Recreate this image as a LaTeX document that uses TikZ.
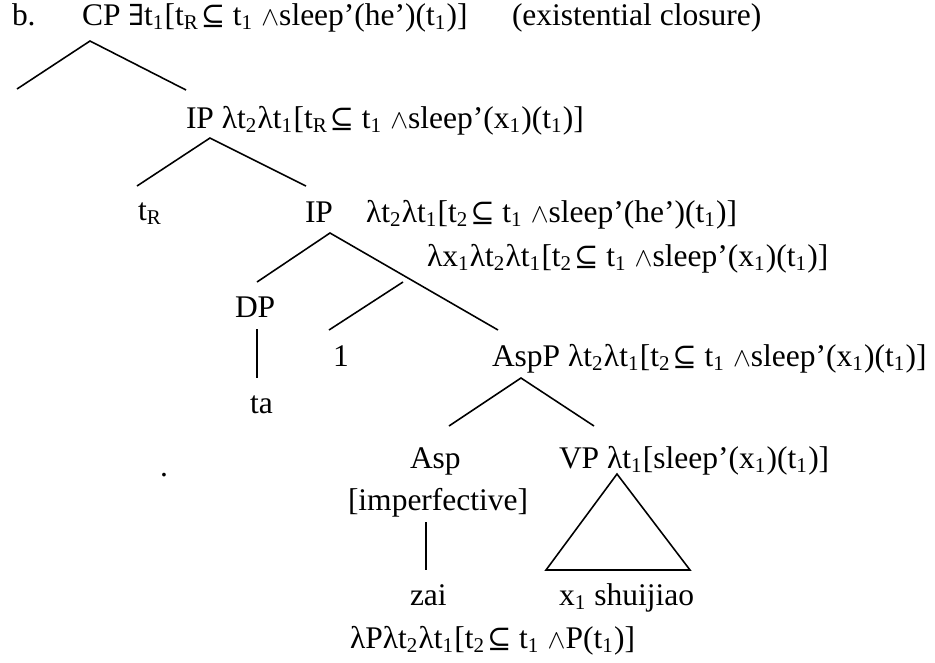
\documentclass[tikz,border=0pt]{standalone}
\usepackage{fontspec}
\setmainfont{Liberation Serif}
\newfontfamily\symfont[Scale=0.92]{DejaVu Serif}
\usepackage{tikz}
\usetikzlibrary{calc}
\tikzstyle{lbl}=[anchor=base west, inner sep=0pt, outer sep=0pt]
\tikzstyle{branch}=[line width=0.6pt]
\newcommand{\tsb}[1]{t\textsubscript{#1}}
\newcommand{\xsb}[1]{x\textsubscript{#1}}
\newcommand{\incl}{\kern0.6pt{\symfont ⊆} }
\newcommand{\lnd}{\scalebox{0.85}{$\wedge$}}
\newcommand{\exi}{{\symfont ∃}}

\begin{document}
\begin{tikzpicture}
        [x=0.381pt,y=-0.381pt,font=\fontsize{12}{14}\selectfont]
            \useasboundingbox (0,0) rectangle (935,662);
            \node [lbl] (ex) at (12,25) {b.};
            \node [lbl] (cp) at (82,25) {CP \exi\tsb{1}[\tsb{R}\incl\tsb{1} \lnd sleep’(he’)(\tsb{1})]};
            \node [lbl] (excl) at (512,25) {(existential closure)};
            \node [lbl] (ip) at (186,128) {IP λ\tsb{2}λ\tsb{1}[\tsb{R}\incl\tsb{1} \lnd sleep’(\xsb{1})(\tsb{1})]};
            \node [lbl] (tr) at (138,220) {\tsb{R}};
            \node [lbl] (ipb) at (305,222) {IP};
            \node [lbl] (ipbsem) at (366,222) {λ\tsb{2}λ\tsb{1}[\tsb{2}\incl\tsb{1} \lnd sleep’(he’)(\tsb{1})]};
            \node [lbl] (barsem) at (427,266) {λ\xsb{1}λ\tsb{2}λ\tsb{1}[\tsb{2}\incl\tsb{1} \lnd sleep’(\xsb{1})(\tsb{1})]};
            \node [lbl] (dp) at (235,317) {DP};
            \node [lbl] (one) at (333,366) {1};
            \node [lbl] (aspp) at (492,366) {AspP λ\tsb{2}λ\tsb{1}[\tsb{2}\incl\tsb{1} \lnd sleep’(\xsb{1})(\tsb{1})]};
            \node [lbl] (ta) at (250,413) {ta};
            \node [lbl] (asp) at (410,468) {Asp};
            \node [lbl] (vp) at (559,468) {VP λ\tsb{1}[sleep’(\xsb{1})(\tsb{1})]};
            \node [lbl] (stray) at (160,476) {.};
            \node [lbl] (imp) at (348,510) {[imperfective]};
            \node [lbl] (zai) at (410,605) {zai};
            \node [lbl] (shui) at (559,605) {\xsb{1} shuijiao};
            \node [lbl] (zaisem) at (350,648) {λPλ\tsb{2}λ\tsb{1}[\tsb{2}\incl\tsb{1} \lnd P(\tsb{1})]};
            \coordinate (cpA) at (90,41); \coordinate (cpL) at (17,89); \coordinate (cpR) at (186,90);
            \coordinate (ipA) at (210,138); \coordinate (ipL) at (137,186); \coordinate (ipR) at (306,186);
            \coordinate (ipbA) at (330,233); \coordinate (ipbL) at (257,282); \coordinate (ipbR) at (498,330);
            \coordinate (barA) at (403,282); \coordinate (barL) at (329,330);
            \coordinate (dpT) at (257,329); \coordinate (dpB) at (257,378);
            \coordinate (asppA) at (521,378); \coordinate (asppL) at (449,426); \coordinate (asppR) at (594,426);
            \coordinate (impT) at (426,522); \coordinate (impB) at (426,570);
            \coordinate (vpA) at (617,474); \coordinate (vpL) at (546,570); \coordinate (vpR) at (690,570);
            \draw [branch] (cpL) -- (cpA) -- (cpR);
            \draw [branch] (ipL) -- (ipA) -- (ipR);
            \draw [branch] (ipbL) -- (ipbA) -- (ipbR);
            \draw [branch] (barA) -- (barL);
            \draw [branch] (dpT) -- (dpB);
            \draw [branch] (asppL) -- (asppA) -- (asppR);
            \draw [branch] (impT) -- (impB);
            \draw [branch] (vpA) -- (vpL) -- (vpR) -- cycle;
        \end{tikzpicture}
\end{document}
